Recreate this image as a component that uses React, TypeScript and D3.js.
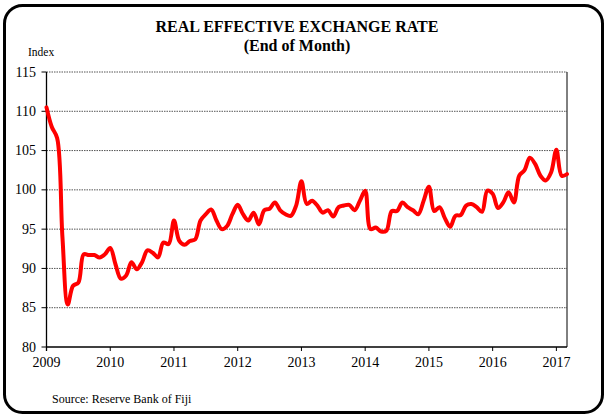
import React from "react";
import * as d3 from "d3";

const START_YEAR = 2009;
// Monthly index values, Jan 2009 .. Mar 2017
const reerValues: number[] = [
  110.5, 108.0, 106.6, 94.0, 85.4, 87.8, 88.2, 91.8, 91.7, 91.7, 91.4, 91.8,
  92.6, 90.5, 88.7, 89.1, 90.8, 89.9, 90.8, 92.3, 92.0, 91.4, 93.3, 93.1,
  96.1, 93.5, 93.0, 93.5, 93.7, 96.1, 96.9, 97.5, 96.1, 95.0, 95.4, 96.9,
  98.1, 96.9, 96.1, 97.1, 95.6, 97.4, 97.6, 98.4, 97.4, 96.9, 96.7, 98.0,
  101.1, 98.2, 98.6, 98.0, 97.1, 97.4, 96.6, 97.8, 98.0, 98.1, 97.4, 98.6,
  99.9, 95.0, 95.2, 94.7, 94.8, 97.3, 97.3, 98.4, 97.8, 97.4, 96.9, 98.6,
  100.4, 97.3, 97.8, 96.4, 95.3, 96.7, 96.8, 98.0, 98.2, 97.8, 97.2, 99.9,
  99.5, 97.7, 98.4, 99.7, 98.4, 101.8, 102.5, 104.1, 103.3, 101.8, 101.2, 102.2,
  105.1, 101.8, 102.0,
];
const yearTicks: number[] = [2009, 2010, 2011, 2012, 2013, 2014, 2015, 2016, 2017];
const yTicks: number[] = [80, 85, 90, 95, 100, 105, 110, 115];
const titleLines: string[] = ["REAL EFFECTIVE EXCHANGE RATE", "(End of Month)"];
const yAxisLabel = "Index";
const sourceText = "Source:  Reserve Bank of Fiji";

const W = 608;
const H = 417;
const plot = { left: 46.5, right: 567, top: 72, bottom: 347 };
const FONT = "'Liberation Serif', 'Times New Roman', serif";

export default function App() {
  const data = reerValues.map((v, i) => ({ t: START_YEAR + i / 12, v }));
  const x = d3
    .scaleLinear()
    .domain([START_YEAR, START_YEAR + (reerValues.length - 1) / 12])
    .range([plot.left, plot.right]);
  const y = d3.scaleLinear().domain([80, 115]).range([plot.bottom, plot.top]);
  const line = d3
    .line<{ t: number; v: number }>()
    .x((d) => x(d.t))
    .y((d) => y(d.v))
    .curve(d3.curveCatmullRom.alpha(0.5));

  return (
    <svg
      width={W}
      height={H}
      style={{ position: "absolute", left: 0, top: 0, background: "#fff" }}
      fontFamily={FONT}
    >
      <rect
        x={4.5}
        y={5.5}
        width={598}
        height={407}
        rx={18}
        ry={18}
        fill="#fff"
        stroke="#000"
        strokeWidth={3}
      />
      <text x={297} y={32} textAnchor="middle" fontSize={16} fontWeight="bold">
        {titleLines[0]}
      </text>
      <text x={297} y={51} textAnchor="middle" fontSize={16} fontWeight="bold">
        {titleLines[1]}
      </text>
      <text x={28} y={56} fontSize={11.5}>
        {yAxisLabel}
      </text>

      {/* gridlines */}
      {yTicks
        .filter((t) => t > 80)
        .map((t) => (
          <line
            key={"g" + t}
            x1={plot.left}
            x2={plot.right}
            y1={y(t)}
            y2={y(t)}
            stroke="#555"
            strokeWidth={1}
            strokeDasharray="1.5,1"
          />
        ))}

      {/* right border */}
      <line x1={plot.right} x2={plot.right} y1={plot.top} y2={plot.bottom} stroke="#000" strokeWidth={1} />

      {/* y axis */}
      <line x1={plot.left} x2={plot.left} y1={plot.top} y2={plot.bottom + 4} stroke="#000" strokeWidth={1.3} />
      {yTicks.map((t) => (
        <g key={"y" + t}>
          <line x1={plot.left - 5} x2={plot.left} y1={y(t)} y2={y(t)} stroke="#000" strokeWidth={1} />
          <text x={36} y={y(t) + 4.5} textAnchor="end" fontSize={14}>
            {t}
          </text>
        </g>
      ))}

      {/* x axis */}
      <line x1={plot.left} x2={plot.right} y1={plot.bottom} y2={plot.bottom} stroke="#000" strokeWidth={1.3} />
      {yearTicks.map((t) => (
        <g key={"x" + t}>
          <line x1={x(t)} x2={x(t)} y1={plot.bottom} y2={plot.bottom + 4} stroke="#000" strokeWidth={1} />
          <text x={x(t)} y={367} textAnchor="middle" fontSize={14}>
            {t}
          </text>
        </g>
      ))}

      <path d={line(data) || ""} fill="none" stroke="#ff0000" strokeWidth={4} strokeLinejoin="round" strokeLinecap="round" />

      <text x={52} y={403} fontSize={12}>
        {sourceText}
      </text>
    </svg>
  );
}
